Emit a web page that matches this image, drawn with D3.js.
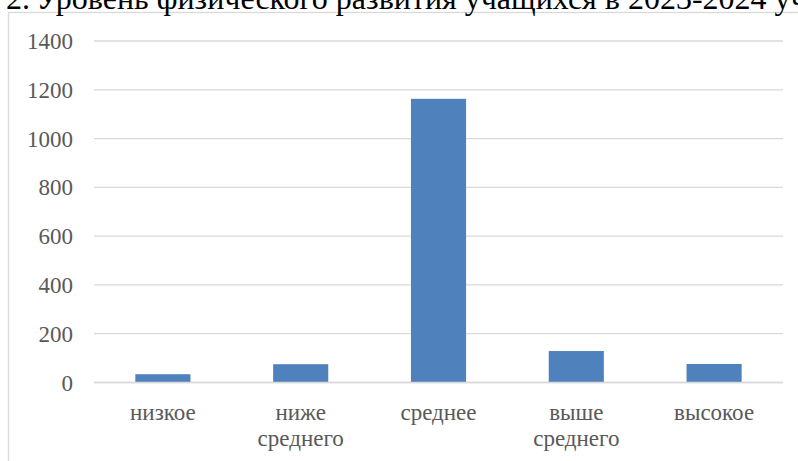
<!DOCTYPE html>
<html lang="ru">
<head>
<meta charset="utf-8">
<title></title>
<style>
	body, html {
	  margin: 0;
	  padding: 0;
	  background: #fff;
	}
	svg { display: block; }
	svg text { font-family: "Liberation Serif", "Times New Roman", serif; }
	.grid line { stroke: #d9d9d9; stroke-width: 1.3px; }
	.tick-lbl { fill: #595959; font-size: 23px; }
</style>
</head>
<body>
<svg></svg>
<script src="https://d3js.org/d3.v7.min.js"></script>
<script>

	// data
	let categories = [["низкое"], ["ниже", "среднего"], ["среднее"], ["выше", "среднего"], ["высокое"]];
	let values = [34, 75, 1163, 129, 76];
	let yTicks = [0, 200, 400, 600, 800, 1000, 1200, 1400];
	let titlePrefix = "Рис. № 2.";
	let titleMain = "Уровень физического развития учащихся в 2023-2024 учебном году";

	let w = 798, h = 461;
	let svg = d3.select("svg")
		.attr("width", w)
		.attr("height", h);

	// chart frame (runs off the right and bottom edge)
	svg.append("rect")
		.attr("x", 8.5)
		.attr("y", 12.5)
		.attr("width", 820)
		.attr("height", 480)
		.attr("fill", "none")
		.attr("stroke", "#d9d9d9")
		.attr("stroke-width", 1.3);

	// caption, cut off by the top edge
	svg.append("text")
		.attr("x", 30)
		.attr("y", 8.5)
		.attr("text-anchor", "end")
		.style("font-size", "32px")
		.style("fill", "#000")
		.text(titlePrefix);
	svg.append("text")
		.attr("x", 36)
		.attr("y", 8.5)
		.style("font-size", "32px")
		.style("fill", "#000")
		.text(titleMain);

	let x = d3.scaleBand()
		.domain(d3.range(categories.length))
		.range([94, 783])
		.paddingInner(0.6)
		.paddingOuter(0.3);

	let y = d3.scaleLinear()
		.domain([0, 1400])
		.range([382.5, 41]);

	// gridlines
	svg.append("g")
		.attr("class", "grid")
		.selectAll("line")
		.data(yTicks)
		.enter()
		.append("line")
		.attr("x1", 94)
		.attr("x2", 783)
		.attr("y1", d => y(d))
		.attr("y2", d => y(d));

	// y labels
	svg.append("g")
		.selectAll("text")
		.data(yTicks)
		.enter()
		.append("text")
		.attr("class", "tick-lbl")
		.attr("x", 73)
		.attr("y", d => y(d))
		.attr("dy", "0.35em")
		.attr("text-anchor", "end")
		.text(d => d);

	// bars
	svg.append("g")
		.selectAll("rect")
		.data(values)
		.enter()
		.append("rect")
		.attr("x", (d, i) => x(i))
		.attr("y", d => y(d))
		.attr("width", x.bandwidth())
		.attr("height", d => y(0) - y(d))
		.attr("fill", "#4f81bd");

	// redraw baseline over bars
	svg.append("line")
		.attr("x1", 94)
		.attr("x2", 783)
		.attr("y1", y(0))
		.attr("y2", y(0))
		.attr("stroke", "#d9d9d9")
		.attr("stroke-width", 1.3);

	// category labels
	let cat = svg.append("g")
		.selectAll("text")
		.data(categories)
		.enter()
		.append("text")
		.attr("class", "tick-lbl")
		.attr("text-anchor", "middle")
		.attr("x", (d, i) => x(i) + x.bandwidth() / 2)
		.attr("y", 420);
	cat.selectAll("tspan")
		.data(d => d)
		.enter()
		.append("tspan")
		.attr("x", function () { return d3.select(this.parentNode).attr("x"); })
		.attr("dy", (d, i) => i == 0 ? 0 : 26)
		.text(d => d);

</script>
</body>
</html>
